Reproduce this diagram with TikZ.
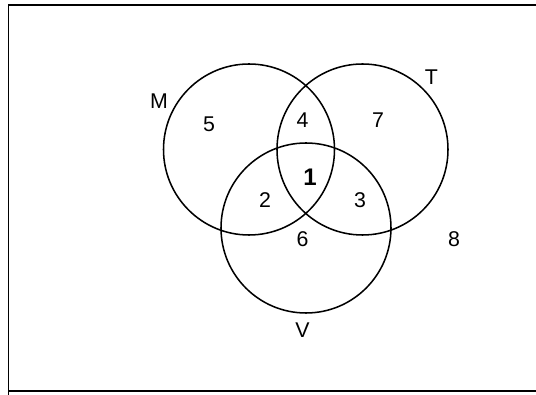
\documentclass[tikz,border=0pt]{standalone}
\usepackage{fontspec}
\setmainfont{Liberation Sans}
\begin{document}
\begin{tikzpicture}[x=0.75pt,y=-0.75pt,
  setline/.style={line width=1.15pt},
  lbl/.style={font=\fontsize{16}{19}\selectfont, inner sep=0pt}]
\useasboundingbox (0,0) rectangle (536,395);
\draw[setline] (536,5) -- (8.5,5) -- (8.5,395);
\draw[setline] (8.5,391) -- (536,391);
\draw[setline] (249,149.5) circle[radius=85.5];
\draw[setline] (362.5,149.5) circle[radius=85.5];
\draw[setline] (306,228) circle[radius=85];
\node[lbl] (M) at (159,101) {M};
\node[lbl] (T) at (431.5,77) {T};
\node[lbl] (V) at (302.5,330) {V};
\node[lbl] (n5) at (209,124) {5};
\node[lbl] (n4) at (302.5,120) {4};
\node[lbl] (n7) at (378,120) {7};
\node[lbl, font=\fontsize{18}{22}\selectfont\bfseries] (n1) at (310,177) {1};
\node[lbl] (n2) at (265,200) {2};
\node[lbl] (n3) at (360,200) {3};
\node[lbl] (n6) at (302.5,239) {6};
\node[lbl] (n8) at (454,239) {8};
\end{tikzpicture}
\end{document}
